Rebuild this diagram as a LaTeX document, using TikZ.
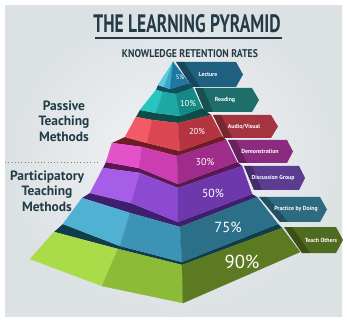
\documentclass[tikz,border=0pt]{standalone}
\usepackage{fontspec}
\setmainfont{PT Sans}
\usepackage{graphicx}

\definecolor{ink}{HTML}{223B46}
\definecolor{bgin}{HTML}{F4F5F6}
\definecolor{bgout}{HTML}{DCE1E4}
% pyramid faces: light, mid, dark, band
\definecolor{aA}{HTML}{5ECADD}\definecolor{aB}{HTML}{3AA8CC}\definecolor{aC}{HTML}{1E77A0}\definecolor{aS}{HTML}{0F4F5E}
\definecolor{bA}{HTML}{2AC4BE}\definecolor{bB}{HTML}{1CA8A3}\definecolor{bC}{HTML}{158985}\definecolor{bS}{HTML}{0C4D4A}
\definecolor{cA}{HTML}{F25A67}\definecolor{cB}{HTML}{DB4653}\definecolor{cC}{HTML}{B53442}\definecolor{cS}{HTML}{6E1C26}
\definecolor{dA}{HTML}{E352C9}\definecolor{dB}{HTML}{CB3DB0}\definecolor{dC}{HTML}{9F2B8B}\definecolor{dS}{HTML}{5C1752}
\definecolor{eA}{HTML}{A65DE8}\definecolor{eB}{HTML}{8C4AD2}\definecolor{eC}{HTML}{6C38AC}\definecolor{eS}{HTML}{3E1F6E}
\definecolor{fA}{HTML}{50B1D3}\definecolor{fB}{HTML}{3C93B5}\definecolor{fC}{HTML}{2B6F88}\definecolor{fS}{HTML}{0F3D4C}
\definecolor{gA}{HTML}{AADB48}\definecolor{gB}{HTML}{8CBB38}\definecolor{gC}{HTML}{5B7A22}
% banners
\definecolor{tagA}{HTML}{1F5F80}\definecolor{tagB}{HTML}{1E6F6B}\definecolor{tagC}{HTML}{A33440}
\definecolor{tagD}{HTML}{8B2B7F}\definecolor{tagE}{HTML}{5B3C91}\definecolor{tagF}{HTML}{2E6A80}
\definecolor{tagG}{HTML}{4E6B1F}

\begin{document}
\begin{tikzpicture}[x=0.03cm, y=-0.03cm,
    every node/.style={inner sep=0pt},
    pct/.style={text=white},
    tag/.style={text=white, font=\fontsize{5}{6}\selectfont\bfseries},
    side/.style={text=ink, align=center, font=\fontsize{11.5}{13.2}\selectfont\bfseries}]

  \useasboundingbox (0,0) rectangle (347,321);
  \fill[white] (0,0) rectangle (347,321);
  \shade[inner color=bgin, outer color=bgout] (5,6) rectangle (342,316);

  % heading
  \node[text=ink] (title) at (187,24) {\resizebox{5.61cm}{0.54cm}{\bfseries THE LEARNING PYRAMID}};
  \coordinate (ulA) at (95,38);
  \coordinate (ulB) at (282,38);
  \draw[ink, line width=1.3pt] (ulA) -- (ulB);
  \node[text=ink] (subtitle) at (190,54) {\resizebox{4.08cm}{0.24cm}{\bfseries KNOWLEDGE RETENTION RATES}};

  % side texts
  \node[side] (passive) at (64,121) {Passive\\Teaching\\Methods};
  \node[side] (particip) at (47,191) {Participatory\\Teaching\\Methods};
  \coordinate (dotA) at (5,162);
  \coordinate (dotB) at (100,162);
  \draw[gray, dotted, thick] (dotA) -- (dotB);

  % banners behind the pyramid
  \foreach \n/\ya/\yb/\xa/\xb/\xr/\xt/\tx/\c/\txt in {
      1/62/87/176/192/236/243/208/tagA/Lecture,
      2/88/112/195/205/252/259/225/tagB/Reading,
      3/115/138/213/224/271/278/244/tagC/{Audio/Visual},
      4/140/163/228/239/287/293/260/tagD/Demonstration,
      5/166/190/244/254/299/305/273/tagE/Discussion Group,
      6/197/222/259/280/320/327/296/tagF/Practice by Doing,
      7/227/253/284/302/336/343/321/tagG/Teach Others} {
    \fill[\c] (\xa,\ya) -- (\xr,\ya) -- (\xt,{(\ya+\yb)/2}) -- (\xr,\yb) -- (\xb,\yb) -- cycle;
    \fill[black, opacity=0.25] (\xa,\ya) -- (\xa+8,\ya) -- (\xb+8,\yb) -- (\xb,\yb) -- cycle;
    \node[tag] (tag\n) at (\tx,{(\ya+\yb)/2}) {\txt};
  }

  % layer corners: L, M, F, R on top (t) and bottom (b)
  \coordinate (apex) at (173,62);
  \coordinate (L1t) at (apex); \coordinate (M1t) at (apex); \coordinate (F1t) at (apex); \coordinate (R1t) at (apex);
  \coordinate (L1b) at (158,85); \coordinate (M1b) at (164,87); \coordinate (F1b) at (170,89); \coordinate (R1b) at (189,83);
  \coordinate (L2t) at (156,90); \coordinate (M2t) at (163,92); \coordinate (F2t) at (176,94); \coordinate (R2t) at (193,88);
  \coordinate (L2b) at (140,110); \coordinate (M2b) at (156,113); \coordinate (F2b) at (180,116); \coordinate (R2b) at (202,108);
  \coordinate (L3t) at (136,117); \coordinate (M3t) at (152,120); \coordinate (F3t) at (178,123); \coordinate (R3t) at (211,115);
  \coordinate (L3b) at (125,137); \coordinate (M3b) at (147,143); \coordinate (F3b) at (180,151); \coordinate (R3b) at (222,136);
  \coordinate (L4t) at (112,143); \coordinate (M4t) at (142,147); \coordinate (F4t) at (177,156); \coordinate (R4t) at (226,140);
  \coordinate (L4b) at (106,162); \coordinate (M4b) at (139,168); \coordinate (F4b) at (178,184); \coordinate (R4b) at (237,162);
  \coordinate (L5t) at (103,168); \coordinate (M5t) at (140,173); \coordinate (F5t) at (178,188); \coordinate (R5t) at (242,166);
  \coordinate (L5b) at (90,193); \coordinate (M5b) at (131,203); \coordinate (F5b) at (178,222); \coordinate (R5b) at (252,194);
  \coordinate (L6t) at (82,198); \coordinate (M6t) at (130,213); \coordinate (F6t) at (180,227); \coordinate (R6t) at (257,197);
  \coordinate (L6b) at (63,224); \coordinate (M6b) at (120,246); \coordinate (F6b) at (182,262); \coordinate (R6b) at (278,224);
  \coordinate (L7t) at (54,232); \coordinate (M7t) at (118,249); \coordinate (F7t) at (182,265); \coordinate (R7t) at (282,228);
  \coordinate (L7b) at (30,259); \coordinate (M7b) at (102,286); \coordinate (F7b) at (183,303); \coordinate (R7b) at (300,252);

  % dark bands between layers
  \foreach \i/\j/\c in {1/2/aS, 2/3/bS, 3/4/cS, 4/5/dS, 5/6/eS, 6/7/fS}
    \fill[\c] (L\i b) -- (M\i b) -- (F\i b) -- (R\i b) -- (R\j t) -- (F\j t) -- (M\j t) -- (L\j t) -- cycle;

  % faces
  \foreach \i/\ca/\cb/\cc in {1/aA/aB/aC, 2/bA/bB/bC, 3/cA/cB/cC, 4/dA/dB/dC, 5/eA/eB/eC, 6/fA/fB/fC, 7/gA/gB/gC} {
    \filldraw[fill=\ca, draw=\ca, line width=0.2pt] (L\i t) -- (M\i t) -- (M\i b) -- (L\i b) -- cycle;
    \filldraw[fill=\cb, draw=\cb, line width=0.2pt] (M\i t) -- (F\i t) -- (F\i b) -- (M\i b) -- cycle;
    \filldraw[fill=\cc, draw=\cc, line width=0.2pt] (F\i t) -- (R\i t) -- (R\i b) -- (F\i b) -- cycle;
  }

  % rates
  \foreach \n/\x/\y/\s/\v in {1/180/77/5.5/5, 2/188/104/7.3/10, 3/197/132/7.3/20, 4/205/162/8.5/30,
      5/213/193/10/50, 6/228/227/12.5/75, 7/242/262/16/90}
    \node[pct, font=\fontsize{\s}{\s}\selectfont] (pct\n) at (\x,\y) {\v\%};
\end{tikzpicture}
\end{document}
